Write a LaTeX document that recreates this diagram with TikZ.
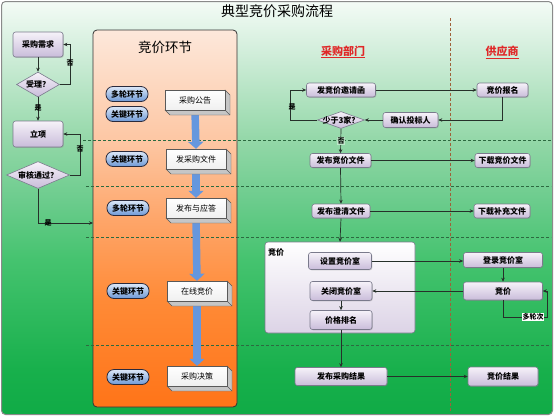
\documentclass[tikz,border=0pt]{standalone}
\usepackage{fontspec}
\setmainfont{Noto Sans CJK SC}
\usetikzlibrary{arrows.meta,shadows,shapes.geometric}
\definecolor{bg0}{HTML}{10AB46}
\definecolor{bg1}{HTML}{18B04C}
\definecolor{bg2}{HTML}{45C36F}
\definecolor{bg3}{HTML}{6CCC8D}
\definecolor{bg4}{HTML}{92D7A7}
\definecolor{bg5}{HTML}{D2EEDB}
\definecolor{bg6}{HTML}{F4FBF6}
\definecolor{or0}{HTML}{FF7418}
\definecolor{or1}{HTML}{FF8A36}
\definecolor{or2}{HTML}{FEA66A}
\definecolor{or3}{HTML}{FDC6A2}
\definecolor{or4}{HTML}{FDE8DB}
\definecolor{lavtop}{HTML}{F6F2F9}
\definecolor{lavbot}{HTML}{C9BCDA}
\definecolor{pborder}{HTML}{7A7A8C}
\definecolor{pilltop}{HTML}{DCE8F8}
\definecolor{pillbot}{HTML}{6E99D6}
\definecolor{pillborder}{HTML}{2A2A3C}
\definecolor{bluebar}{HTML}{6597DE}
\definecolor{linec}{HTML}{26302A}
\definecolor{hdash}{HTML}{2C6A40}
\definecolor{vdash}{HTML}{A0603A}
\definecolor{hdred}{HTML}{E02828}
\definecolor{frame}{HTML}{8A8A8A}
\definecolor{grpbot}{HTML}{DCD3E6}
\pgfdeclareverticalshading{bgshade}{100bp}{color(0bp)=(bg0); color(25bp)=(bg0); color(30.5bp)=(bg1); color(43.75bp)=(bg2); color(51bp)=(bg3); color(58bp)=(bg4); color(69bp)=(bg5); color(75bp)=(bg6); color(100bp)=(bg6)}
\pgfdeclareverticalshading{orshade}{100bp}{color(0bp)=(or0); color(25bp)=(or0); color(39bp)=(or1); color(50bp)=(or2); color(60bp)=(or3); color(75bp)=(or4); color(100bp)=(or4)}
\pgfdeclarelayer{bg}
\pgfdeclarelayer{mid}
\pgfsetlayers{bg,mid,main}
\newcommand\wboxdraw[4]{%
  \filldraw[fill=gray!45, draw=gray!70!black, line width=0.4pt]
    ({#2+30},{#3-10}) -- ({#2+35},{#3-5}) -- ({#2+35},{#3+15}) -- ({#2-25},{#3+15}) -- ({#2-30},{#3+10}) -- ({#2+30},{#3+10}) -- cycle;
  \draw[gray!70!black, line width=0.4pt] ({#2+30},{#3+10}) -- ({#2+35},{#3+15});
  \node[wbox] (#1) at (#2,#3) {#4};}
\begin{document}
\begin{tikzpicture}[x=1pt,y=-1pt,
  conn/.style={draw=linec, line width=0.7pt, -{Stealth[length=4pt,width=3.5pt]}},
  pbox/.style={rectangle, rounded corners=2.5pt, draw=pborder, line width=0.6pt,
    top color=lavtop, bottom color=lavbot, font=\bfseries\fontsize{8}{9}\selectfont,
    inner sep=0pt, drop shadow={shadow xshift=0.8pt, shadow yshift=-0.8pt, opacity=0.35}},
  dia/.style={diamond, draw=pborder, line width=0.6pt, top color=lavtop, bottom color=lavbot,
    inner sep=0pt, aspect=1},
  dtext/.style={font=\bfseries\fontsize{8}{9}\selectfont, inner sep=0pt},
  pill/.style={rectangle, rounded corners=7pt, draw=pillborder, line width=0.8pt,
    top color=pilltop, bottom color=pillbot, font=\bfseries\fontsize{8}{9}\selectfont,
    minimum width=42pt, minimum height=15pt, inner sep=0pt},
  wbox/.style={rectangle, draw=gray!70!black, line width=0.4pt, top color=white, bottom color=gray!12,
    minimum width=60pt, minimum height=20pt, inner sep=0pt, font=\fontsize{8}{9}\selectfont},
  bluearr/.style={draw=bluebar, line width=7.5pt, -{Triangle[length=7pt,width=15pt]}},
  hdl/.style={draw=hdash, line width=0.6pt, dash pattern=on 3pt off 2pt},
  lbl/.style={font=\bfseries\fontsize{7}{8}\selectfont, inner sep=0.5pt, text=black}
]
\useasboundingbox (0,0) rectangle (554,416);
\begin{pgfonlayer}{bg}
  \path[shading=bgshade, draw=frame, line width=1pt, rounded corners=4pt] (1.5,1.5) rectangle (552.5,414.5);
  \path[shading=orshade, draw=gray!40!black, line width=0.8pt, rounded corners=4pt] (93,30) rectangle (237,407);
  \node[minimum width=144pt, minimum height=377pt, inner sep=0pt] (stage) at (165,218.5) {};
  \draw[hdl] (83,140) -- (551,140);
  \draw[hdl] (86,186) -- (551,186);
  \draw[hdl] (86,237) -- (551,237);
  \draw[hdl] (86,345) -- (551,345);
  \draw[draw=vdash, line width=0.6pt, dash pattern=on 3pt off 2pt] (450,18) -- (450,413);
  \path[draw=pborder, line width=0.6pt, rounded corners=3pt, top color=white, bottom color=grpbot] (265,242) rectangle (415,333);
  \node (grp) at (340,287.5) [minimum width=150pt, minimum height=91pt, inner sep=0pt] {};
\end{pgfonlayer}

% titles
\node[font=\fontsize{14}{16}\selectfont] (title) at (277,11) {典型竞价采购流程};
\node[font=\fontsize{13.5}{15}\selectfont] (stagetitle) at (165,47) {竞价环节};
\node[font=\bfseries\fontsize{11}{13}\selectfont, text=hdred] (hbuy) at (343,52) {\underline{采购部门}};
\node[font=\bfseries\fontsize{11}{13}\selectfont, text=hdred] (hsup) at (502,52) {\underline{供应商}};

% left column
\node[pbox, minimum width=50pt, minimum height=25pt] (req) at (38,44.5) {采购需求};
\node[dia, minimum width=43pt, minimum height=25pt] (acc) at (38,84.5) {};
\node[dtext] (acct) at (acc) {受理？};
\node[pbox, minimum width=50pt, minimum height=26pt] (lix) at (38,134) {立项};
\node[dia, minimum width=63pt, minimum height=27pt] (aud) at (38,175) {};
\node[dtext] (audt) at (aud) {审核通过？};
\coordinate (yes1) at (93,223);
\draw[conn] (req) -- (acc);
\draw[conn] (acc.east) -- ++(11,0) |- (req.east);
\node[lbl] (no1) at (70,63) {否};
\draw[conn] (acc.south) -- (lix.north);
\node[lbl] (ys1) at (38,108) {是};
\draw[conn] (aud.east) -- ++(11,0) |- (lix.east);
\node[lbl] (no2) at (80,149) {否};
\draw[conn] (aud.south) |- (yes1);
\node[lbl] (ys2) at (48,223) {是};

% stage pills
\node[pill] (p1) at (127,94) {多轮环节};
\node[pill] (p2) at (127,114) {关键环节};
\node[pill] (p3) at (127,159) {关键环节};
\node[pill] (p4) at (128,208) {多轮环节};
\node[pill] (p5) at (128,291) {关键环节};
\node[pill] (p6) at (128,377) {关键环节};

% white 3D boxes
\wboxdraw{w1}{195}{100}{采购公告}
\wboxdraw{w2}{196}{159}{发采购文件}
\wboxdraw{w3}{196}{208}{发布与应答}
\wboxdraw{w4}{197}{291}{在线竞价}
\wboxdraw{w5}{197}{376}{采购决策}
\begin{pgfonlayer}{mid}
  \draw[bluearr] (w1.south) -- (w2.north);
  \draw[bluearr] (w2.south) -- (w3.north);
  \draw[bluearr] (w3.south) -- (w4.north);
  \draw[bluearr] (w4.south) -- (w5.north);
\end{pgfonlayer}

% right flow
\node[pbox, minimum width=69pt, minimum height=14pt] (inv) at (341,90) {发竞价邀请函};
\node[pbox, minimum width=51pt, minimum height=14pt] (reg) at (502.5,90) {竞价报名};
\node[pbox, minimum width=55pt, minimum height=15pt] (conf) at (410.5,120) {确认投标人};
\node[dia, minimum width=47pt, minimum height=17pt] (less) at (341,120) {};
\node[dtext] (lesst) at (less) {少于3家？};
\node[pbox, minimum width=61pt, minimum height=14pt] (pub) at (340.5,160.5) {发布竞价文件};
\node[pbox, minimum width=55pt, minimum height=14pt] (dl1) at (502.5,160.5) {下载竞价文件};
\node[pbox, minimum width=58pt, minimum height=14pt] (clar) at (341,211) {发布澄清文件};
\node[pbox, minimum width=56pt, minimum height=14pt] (dl2) at (502,211) {下载补充文件};
\node[font=\bfseries\fontsize{8}{9}\selectfont, anchor=west, inner sep=0pt] (grplbl) at (268,252) {竞价};
\node[pbox, minimum width=63pt, minimum height=17pt] (set) at (340,261) {设置竞价室};
\node[pbox, minimum width=79pt, minimum height=15pt] (login) at (503,260) {登录竞价室};
\node[pbox, minimum width=79pt, minimum height=18pt] (bid) at (503,291) {竞价};
\node[pbox, minimum width=62pt, minimum height=19pt] (close) at (341,291) {关闭竞价室};
\node[pbox, minimum width=62pt, minimum height=19pt] (rank) at (341,320) {价格排名};
\node[pbox, minimum width=92pt, minimum height=18pt] (res) at (341,376.5) {发布采购结果};
\node[pbox, minimum width=70pt, minimum height=19pt] (bres) at (503,376.5) {竞价结果};
\coordinate (lp) at (547,317);

\draw[conn] (inv) -- (reg);
\draw[conn] (reg.south) |- (conf.east);
\draw[conn] (conf) -- (less);
\draw[conn] (less.west) -- ++(-27,0) |- (inv.west);
\node[lbl] (ys3) at (292,107) {是};
\draw[conn] (less.south) -- (pub.north);
\node[lbl, fill=bg4!60!white] (no3) at (341,141) {否};
\draw[conn] (pub) -- (dl1);
\draw[conn] (pub.south) -- (clar.north);
\draw[conn] (clar) -- (dl2);
\draw[conn] (clar.south) -- (grp.north);
\draw[conn] (set) -- (login.west |- set.east);
\draw[conn] (login) -- (bid);
\draw[conn] (bid) -- (close);
\draw[conn] (close) -- (rank);
\draw[conn] (rank.south) -- (res.north);
\draw[conn] (res) -- (bres);
\draw[conn] (bid.south) |- (lp) |- (bid.east);
\node[lbl, fill=white] (multi) at (533,317) {多轮次};
\end{tikzpicture}
\end{document}
